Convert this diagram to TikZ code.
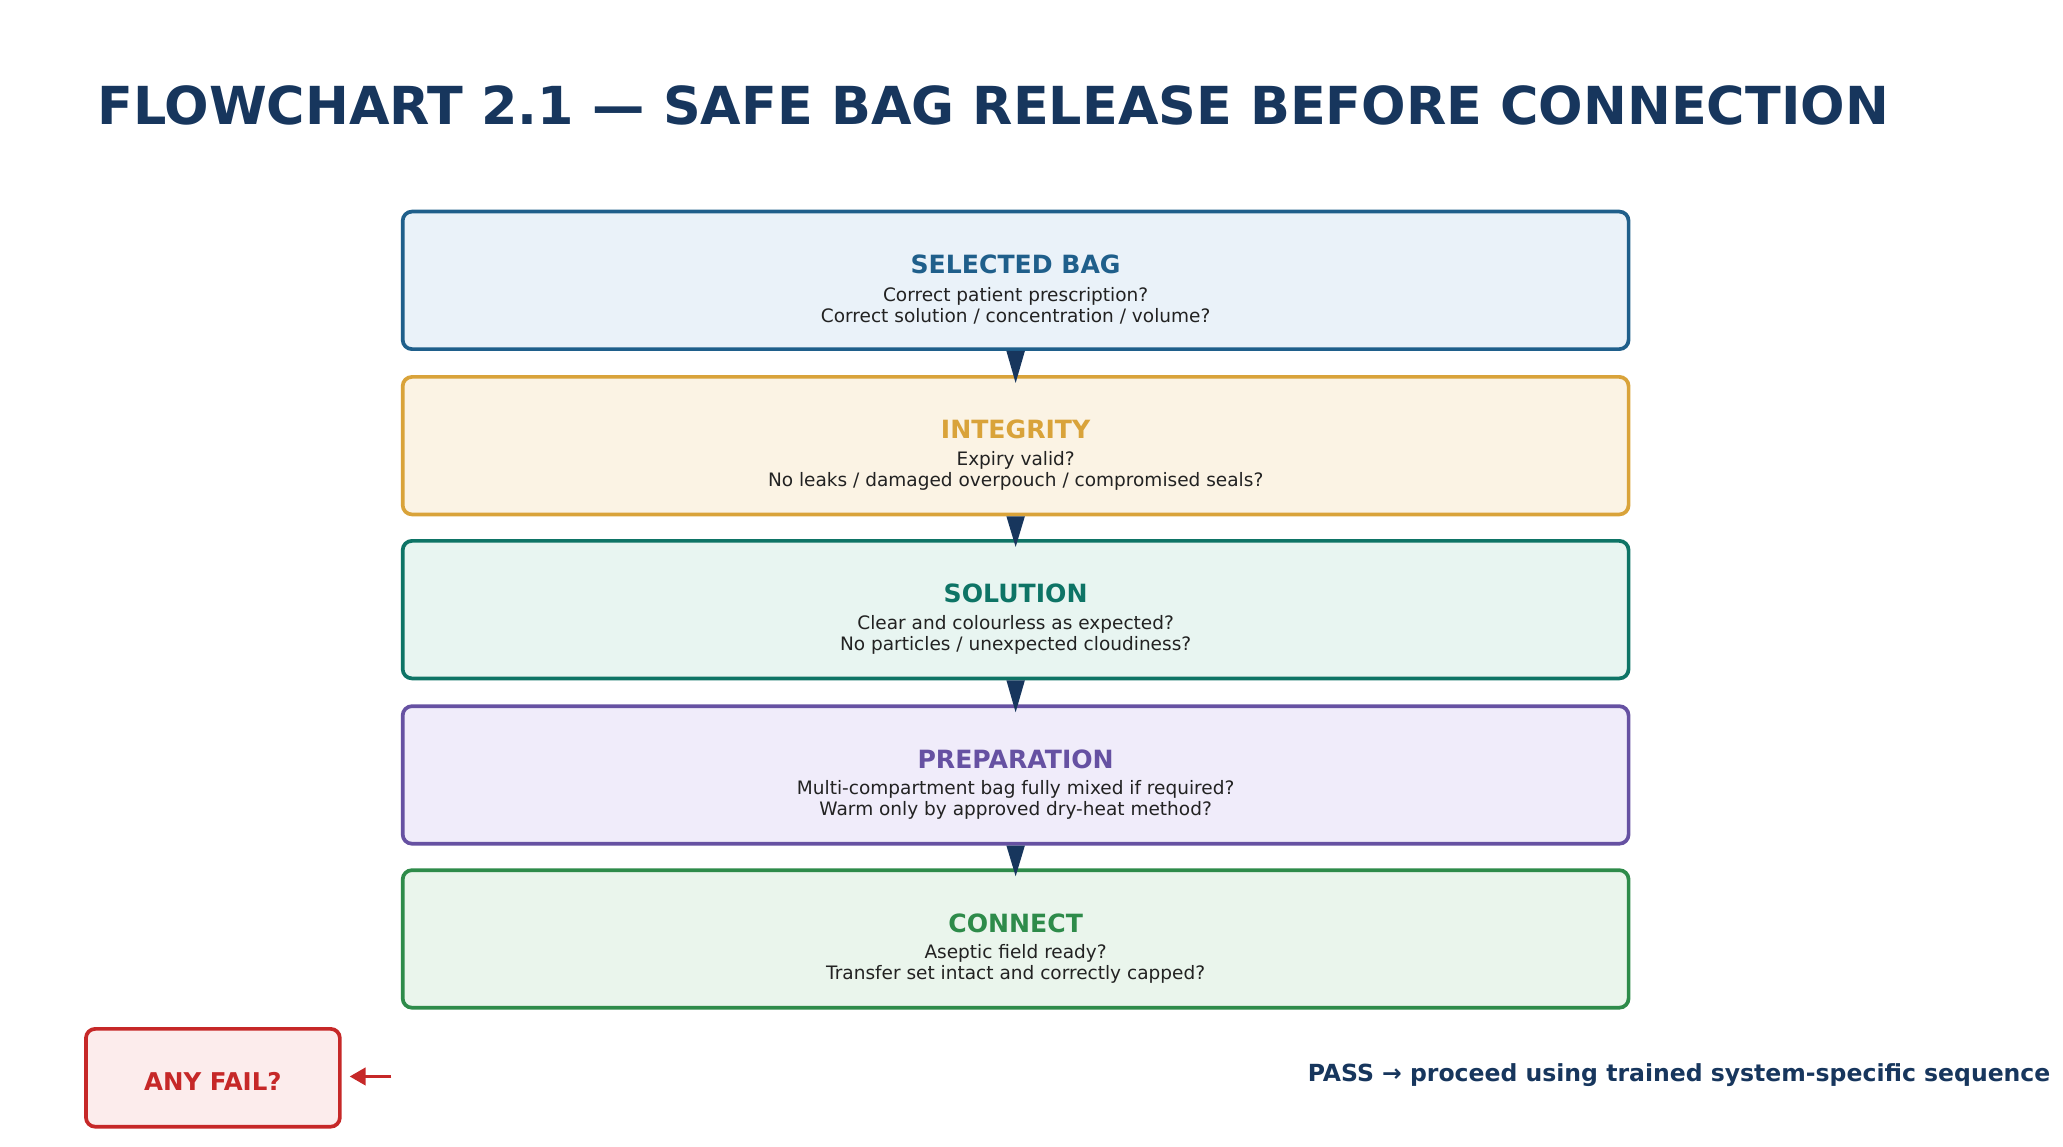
\documentclass[tikz,border=0pt]{standalone}
\usepackage{fontspec}
\setmainfont{DejaVu Sans}
\usetikzlibrary{arrows.meta}
\definecolor{navy}{HTML}{17365D}
\definecolor{cb}{HTML}{1F5F8B}\definecolor{fb}{HTML}{EAF2F9}
\definecolor{co}{HTML}{D9A33A}\definecolor{fo}{HTML}{FBF3E4}
\definecolor{ct}{HTML}{0E7466}\definecolor{ft}{HTML}{E8F5F1}
\definecolor{cp}{HTML}{6651A2}\definecolor{fp}{HTML}{F0ECFA}
\definecolor{cg}{HTML}{2E8B4A}\definecolor{fg}{HTML}{EAF5EC}
\definecolor{cr}{HTML}{C62828}\definecolor{fr}{HTML}{FCECEC}
\definecolor{txt}{HTML}{222222}
\begin{document}
\begin{tikzpicture}[x=1pt,y=-1pt,
 box/.style={draw=#1,line width=2.8pt,rounded corners=7pt,minimum width=927pt,minimum height=104pt,inner sep=0pt},
 head/.style={font=\bfseries\fontsize{19}{20}\selectfont,text=#1},
 body/.style={font=\fontsize{14}{16}\selectfont,text=txt,align=center},
 tri/.style={fill=navy,draw=none}]
\useasboundingbox (0,0) rectangle (1560,867);
\node[anchor=west,text=navy,font=\bfseries\fontsize{39.6}{42}\selectfont] (title) at (70,80) {FLOWCHART 2.1 — SAFE BAG RELEASE BEFORE CONNECTION};
\def\stage#1#2#3#4#5#6#7{%
 \node[box=#3,fill=#4] (#1) at (768,#2) {};
 \node[head=#3] (#1h) at (768,#2-12) {#5};
 \node[body] (#1b) at (768,#2+19) {#6\\#7};}
\stage{s1}{212}{cb}{fb}{SELECTED BAG}{Correct patient prescription?}{Correct solution / concentration / volume?}
\stage{s2}{337}{co}{fo}{INTEGRITY}{Expiry valid?}{No leaks / damaged overpouch / compromised seals?}
\stage{s3}{461}{ct}{ft}{SOLUTION}{Clear and colourless as expected?}{No particles / unexpected cloudiness?}
\stage{s4}{586}{cp}{fp}{PREPARATION}{Multi-compartment bag fully mixed if required?}{Warm only by approved dry-heat method?}
\stage{s5}{710}{cg}{fg}{CONNECT}{Aseptic field ready?}{Transfer set intact and correctly capped?}
\foreach \a/\b in {s1/s2,s2/s3,s3/s4,s4/s5}{\fill[navy] ([xshift=-7pt]\a.south) -- ([xshift=7pt]\a.south) -- ([yshift=-6pt]\b.north) -- cycle;}
\node[draw=cr,fill=fr,line width=2.8pt,rounded corners=7pt,minimum width=192pt,minimum height=74pt,inner sep=0pt] (fail) at (161,815) {};
\node[text=cr,font=\bfseries\fontsize{18.5}{20}\selectfont] (failt) at (161,818) {ANY FAIL?};
\coordinate (fs) at (296,814);
\draw[-{Triangle[width=13pt,length=12pt]},cr,line width=2.5pt] (fs) -- ([xshift=6pt]fail.east |- fs);
\node[anchor=east,text=navy,font=\bfseries\fontsize{17.8}{20}\selectfont] (pass) at (1554,813) {PASS → proceed using trained system-specific sequence};
\end{tikzpicture}
\end{document}
